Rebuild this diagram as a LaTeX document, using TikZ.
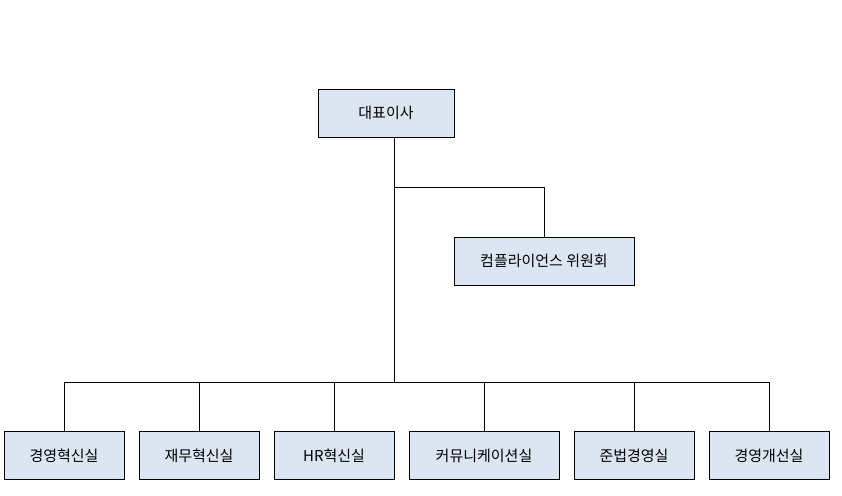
\documentclass[tikz,border=0pt]{standalone}
\usepackage{fontspec}
\setmainfont{Noto Sans CJK KR}
\definecolor{boxfill}{HTML}{DCE6F2}
\tikzset{
  unit/.style={draw,thick,fill=boxfill,minimum height=48pt,inner sep=0pt,font=\fontsize{15}{18}\selectfont},
  link/.style={thick},
}
\begin{document}
\begin{tikzpicture}[x=1pt,y=-1pt]
    \useasboundingbox (0,0) rectangle (842,495);
    \node [unit,minimum width=136pt] (ceo) at (386,113) {대표이사};
    \node [unit,minimum width=180pt] (comp) at (544,261) {컴플라이언스 위원회};
    \coordinate (fork) at (394,187);
    \coordinate (bus) at (394,382);
    \foreach \name/\x/\w/\txt in {d1/64/120/경영혁신실,d2/199/120/재무혁신실,
      d3/334/120/HR혁신실,d4/484/150/커뮤니케이션실,d5/634/120/준법경영실,d6/769/120/경영개선실}
    {
      \node [unit,minimum width=\w pt] (\name) at (\x,455.5) {\txt};
      \draw [link] (\name.north) -- (\name.north |- bus);
    }
    \draw [link] (ceo.south -| fork) -- (bus);
    \draw [link] (fork) -| (comp.north);
    \draw [link] (d1.north |- bus) -- (d6.north |- bus);
\end{tikzpicture}
\end{document}
